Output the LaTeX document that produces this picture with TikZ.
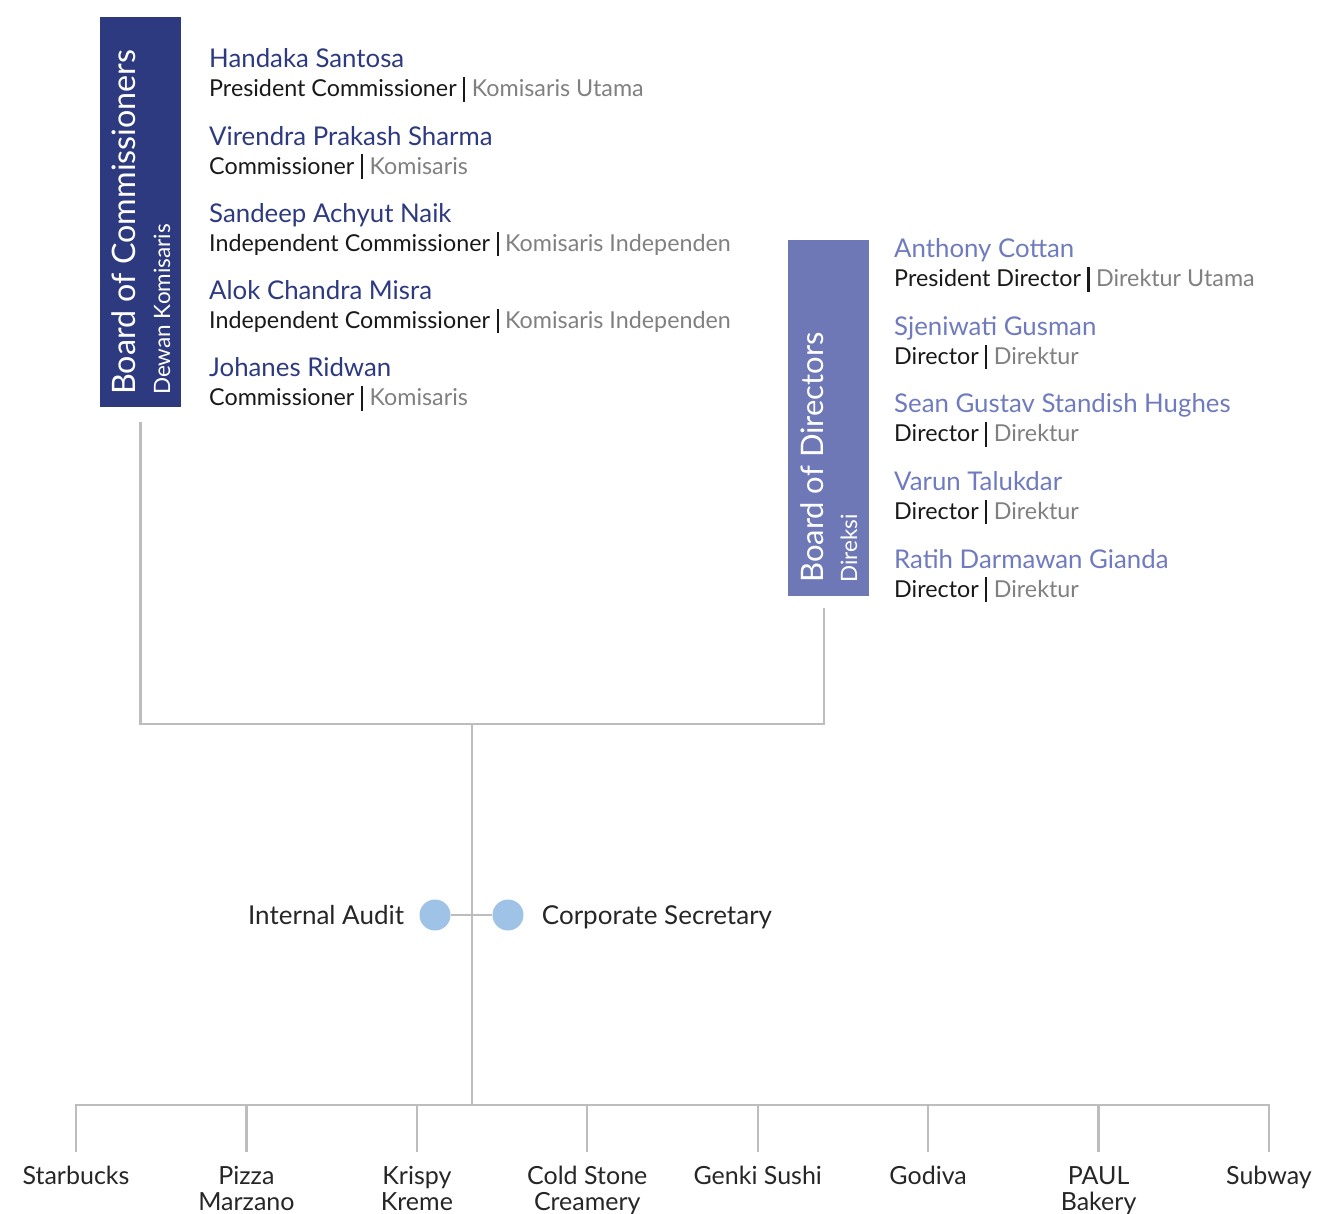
\documentclass[tikz,border=0pt]{standalone}
\usepackage{fontspec}
\setmainfont{Lato}
\usepackage{tikz}
\usetikzlibrary{calc,positioning}
\definecolor{comblue}{HTML}{2E3A80}
\definecolor{dirblue}{HTML}{6E78B6}
\definecolor{dirname}{HTML}{6F7BBE}
\definecolor{idgrey}{HTML}{808080}
\definecolor{linegrey}{HTML}{BDBDBD}
\definecolor{dotblue}{HTML}{9FC3E7}
\newcommand{\rolesep}{\hspace{0.28em}\rule[-0.2em]{0.09em}{1.05em}\hspace{0.28em}}

\begin{document}
\begin{tikzpicture}[x=1pt,y=-1pt,
  link/.style={draw=linegrey,line width=2.4pt},
  boardbox/.style={inner sep=0,minimum width=81,minimum height=#1},
  boardtitle/.style={rotate=90,anchor=base west,inner sep=0,text=white,font=\fontsize{#1}{36}\selectfont},
  boardsub/.style={rotate=90,anchor=base west,inner sep=0,text=white,font=\fontsize{22.5}{26}\selectfont},
  person/.style={anchor=base west,inner sep=0,font=\fontsize{25.8}{30}\selectfont},
  role/.style={anchor=base west,inner sep=0,text=black!90,font=\fontsize{23.3}{27}\selectfont},
  unit/.style={inner sep=0,text height=24.7pt,text depth=6.5pt,text=black!85,font=\fontsize{26}{30}\selectfont},
  brand/.style={anchor=north,inner sep=0,align=center,text=black!85,font=\fontsize{25}{26}\selectfont},
  dot/.style={circle,fill=dotblue,inner sep=0,minimum size=31}]
\useasboundingbox (0,0) rectangle (1320,1214);

% board of commissioners
\node[boardbox=390,fill=comblue] (boc) at (140.5,212) {};
\node[boardtitle=32.3] at (135,395) {Board of Commissioners};
\node[boardsub] at (170,395) {Dewan Komisaris};
\foreach \n/\r/\d [count=\i] in {Handaka Santosa/President Commissioner/Komisaris Utama,
  Virendra Prakash Sharma/Commissioner/Komisaris,
  Sandeep Achyut Naik/Independent Commissioner/Komisaris Independen,
  Alok Chandra Misra/Independent Commissioner/Komisaris Independen,
  Johanes Ridwan/Commissioner/Komisaris}{
  \node[person,text=comblue] (cn\i) at (209,{68+77.25*(\i-1)}) {\n};
  \node[role] (cr\i) at (209,{97+77.25*(\i-1)}) {\r\rolesep\textcolor{idgrey}{\d}};
}

% board of directors
\node[boardbox=356,fill=dirblue] (bod) at (828,418) {};
\node[boardtitle=31] at (823,583) {Board of Directors};
\node[boardsub] at (857,583) {Direksi};
\foreach \n/\r/\d [count=\i] in {Anthony Cottan/President Director/Direktur Utama,
  Sjeniwati Gusman/Director/Direktur,
  Sean Gustav Standish Hughes/Director/Direktur,
  Varun Talukdar/Director/Direktur,
  Ratih Darmawan Gianda/Director/Direktur}{
  \node[person,text=dirname] (dn\i) at (894,{258+77.5*(\i-1)}) {\n};
  \node[role] (dr\i) at (894,{287+77.5*(\i-1)}) {\r\rolesep\textcolor{idgrey}{\d}};
}

% joining lines
\coordinate (hub) at (472,724);
\coordinate (bar) at (472,1105);
\draw[link] ([yshift=-15pt]boc.south) |- (hub);
\draw[link] (hub) -| ([xshift=-4pt,yshift=-12pt]bod.south);
\draw[link] (hub) -- (bar);

% internal audit and corporate secretary
\node[dot] (ia) at (435,915) {};
\node[dot] (cs) at (508,915) {};
\draw[link] (ia.east) -- (cs.west);
\node[unit,left=15pt of ia] (ialabel) {Internal Audit};
\node[unit,right=18pt of cs] (cslabel) {Corporate Secretary};

% brands
\foreach \b [count=\i] in {Starbucks,Pizza\\Marzano,Krispy\\Kreme,Cold Stone\\Creamery,
  Genki Sushi,Godiva,PAUL\\Bakery,Subway}{
  \node[brand] (b\i) at ({76+170.43*(\i-1)},1166) {\b};
}
\draw[link] ([yshift=14pt]b1.north) |- (b8.north |- bar) -- ([yshift=14pt]b8.north);
\foreach \i in {2,...,7}{
  \draw[link] (b\i.north |- bar) -- ([yshift=14pt]b\i.north);
}
\end{tikzpicture}
\end{document}
